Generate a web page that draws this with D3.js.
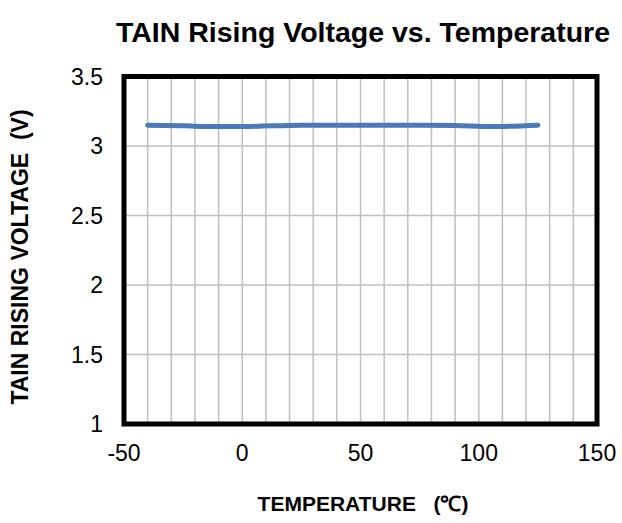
<!DOCTYPE html>
<html>
<head>
<meta charset="utf-8">
<script src="https://cdn.jsdelivr.net/npm/d3@7"></script>
<style>
  body { margin: 0; background: #fff; }
  text { font-family: "Liberation Sans", Arial, sans-serif; }
</style>
</head>
<body>
<div id="wrapper"></div>
<script>
const temperatures = [-40, -25, -10, 0, 25, 50, 75, 90, 105, 125]
const voltages = [3.15, 3.145, 3.14, 3.14, 3.15, 3.15, 3.15, 3.148, 3.14, 3.15]
const xTicks = [-50, 0, 50, 100, 150]
const yTicks = [1, 1.5, 2, 2.5, 3, 3.5]

let dimensions = {
  width: 622,
  height: 523,
  margin: { top: 76.5, right: 25, bottom: 99, left: 124 }
}
dimensions.boundedWidth = dimensions.width - dimensions.margin.left - dimensions.margin.right
dimensions.boundedHeight = dimensions.height - dimensions.margin.top - dimensions.margin.bottom

const svg = d3.select("#wrapper").append("svg")
  .attr("width", dimensions.width)
  .attr("height", dimensions.height)

const bounds = svg.append("g")
  .attr("transform", `translate(${dimensions.margin.left},${dimensions.margin.top})`)

const xScale = d3.scaleLinear().domain([-50, 150]).range([0, dimensions.boundedWidth])
const yScale = d3.scaleLinear().domain([1, 3.5]).range([dimensions.boundedHeight, 0])

// grid, every 10 degrees and every 0.5 V
bounds.append("g").selectAll("line").data(d3.range(-40, 150, 10))
  .enter().append("line")
  .attr("x1", d => xScale(d)).attr("x2", d => xScale(d))
  .attr("y1", 0).attr("y2", dimensions.boundedHeight)
  .attr("stroke", "#bfbfbf").attr("stroke-width", 1.5)

bounds.append("g").selectAll("line").data(yTicks.slice(1, -1))
  .enter().append("line")
  .attr("y1", d => yScale(d)).attr("y2", d => yScale(d))
  .attr("x1", 0).attr("x2", dimensions.boundedWidth)
  .attr("stroke", "#bfbfbf").attr("stroke-width", 1.5)

// data line
const lineGen = d3.line()
  .x((d, i) => xScale(temperatures[i]))
  .y(d => yScale(d))
  .curve(d3.curveMonotoneX)

bounds.append("path")
  .attr("d", lineGen(voltages))
  .attr("fill", "none")
  .attr("stroke", "#4a7ab9")
  .attr("stroke-width", 5)
  .attr("stroke-linecap", "round")

// frame
bounds.append("rect")
  .attr("width", dimensions.boundedWidth)
  .attr("height", dimensions.boundedHeight)
  .attr("fill", "none")
  .attr("stroke", "black")
  .attr("stroke-width", 5)

// tick labels
bounds.append("g").selectAll("text").data(xTicks)
  .enter().append("text")
  .attr("x", d => xScale(d))
  .attr("y", dimensions.boundedHeight + 37)
  .attr("text-anchor", "middle")
  .style("font-size", "23px")
  .text(d => d)

bounds.append("g").selectAll("text").data(yTicks)
  .enter().append("text")
  .attr("x", -21)
  .attr("y", d => yScale(d) + 8)
  .attr("text-anchor", "end")
  .style("font-size", "23px")
  .text(d => d)

// titles
svg.append("text")
  .attr("x", 363)
  .attr("y", 42)
  .attr("text-anchor", "middle")
  .style("font-size", "28.5px")
  .style("font-weight", "bold")
  .text("TAIN Rising Voltage vs. Temperature")

svg.append("text")
  .attr("x", 363)
  .attr("y", 511)
  .attr("text-anchor", "middle")
  .style("font-size", "21px")
  .style("font-weight", "bold")
  .style("white-space", "pre")
  .text("TEMPERATURE   (℃)")

svg.append("text")
  .attr("transform", `translate(28, 257) rotate(-90)`)
  .attr("text-anchor", "middle")
  .style("font-size", "23px")
  .style("font-weight", "bold")
  .style("white-space", "pre")
  .text("TAIN RISING VOLTAGE  (V)")
</script>
</body>
</html>
